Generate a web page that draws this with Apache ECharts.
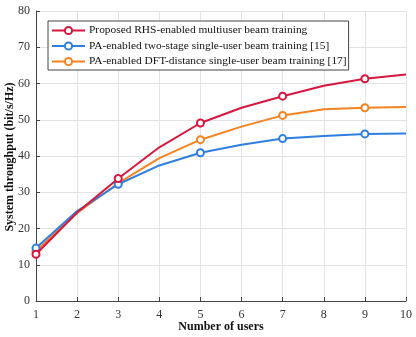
<!DOCTYPE html>
<html><head><meta charset="utf-8">
<script src="https://cdn.jsdelivr.net/npm/echarts@6/dist/echarts.min.js"></script>
<style>html,body{margin:0;padding:0;background:#fff}#c{width:416px;height:337px}</style>
</head><body><div id="c"></div>
<script>
const users = [1,2,3,4,5,6,7,8,9,10];
const rhs = [12.9,24.4,33.8,42.4,49.1,53.3,56.5,59.4,61.3,62.5];
const twoStage = [14.6,24.8,32.2,37.4,40.9,43.1,44.8,45.5,46.1,46.2];
const dftDist = [13.8,24.3,32.5,39.4,44.5,48.1,51.2,52.9,53.3,53.5];
const names = ['Proposed RHS-enabled multiuser beam training','PA-enabled two-stage single-user beam training [15]','PA-enabled DFT-distance single-user beam training [17]'];
const xName = 'Number of users';
const yName = 'System throughput (bit/s/Hz)';
const colors = ['#d6173f','#2f7fe0','#f5831f'];
const font = 'Liberation Serif';
function mk(vals, i){
  return {
    name: names[i], type:'line', data: users.map((u,k)=>[u,vals[k]]),
    symbol:'emptyCircle', symbolSize:(v)=> (v[0]%2===1?7:0), showAllSymbol:true,
    lineStyle:{color:colors[i],width:2}, itemStyle:{color:colors[i],borderWidth:1.6},
    z: 3-i
  };
}
const chart = echarts.init(document.getElementById('c'));
chart.setOption({
  animation:false,
  textStyle:{fontFamily:font},
  grid:{left:36,right:10,top:11,bottom:36,containLabel:false,outerBoundsMode:'none'},
  legend:{
    left:48, top:21, orient:'vertical', itemGap:4.5, itemWidth:33, itemHeight:9,
    backgroundColor:'#fff', borderColor:'#444', borderWidth:1, padding:[4,2,3,3],
    textStyle:{fontFamily:font,fontSize:11.4,color:'#111',padding:[0,0,0,-1]},
    data:names
  },
  graphic:[
    {type:'text', x:10, y:157, rotation:Math.PI/2, z:10,
      style:{text:yName, textAlign:'center', textVerticalAlign:'middle', font:'bold 12px "Liberation Serif"', fill:'#111'}},
    {type:'text', x:221, y:327, z:10,
      style:{text:xName, textAlign:'center', textVerticalAlign:'middle', font:'bold 12px "Liberation Serif"', fill:'#111'}}
  ],
  xAxis:{type:'value',min:1,max:10,interval:1,
    axisLine:{lineStyle:{color:'#444'}},axisTick:{inside:true,length:4,lineStyle:{color:'#444'}},
    axisLabel:{fontFamily:font,fontSize:12,color:'#333',margin:8},
    splitLine:{lineStyle:{color:'#e3e3e3'}}},
  yAxis:{type:'value',min:0,max:80,interval:10,
    axisLine:{show:true,lineStyle:{color:'#444'}},axisTick:{show:true,inside:true,length:4,lineStyle:{color:'#444'}},
    axisLabel:{fontFamily:font,fontSize:12,color:'#333',margin:6},
    splitLine:{lineStyle:{color:'#e3e3e3'}}},
  series:[mk(rhs,0),mk(twoStage,1),mk(dftDist,2)]
});
</script></body></html>
